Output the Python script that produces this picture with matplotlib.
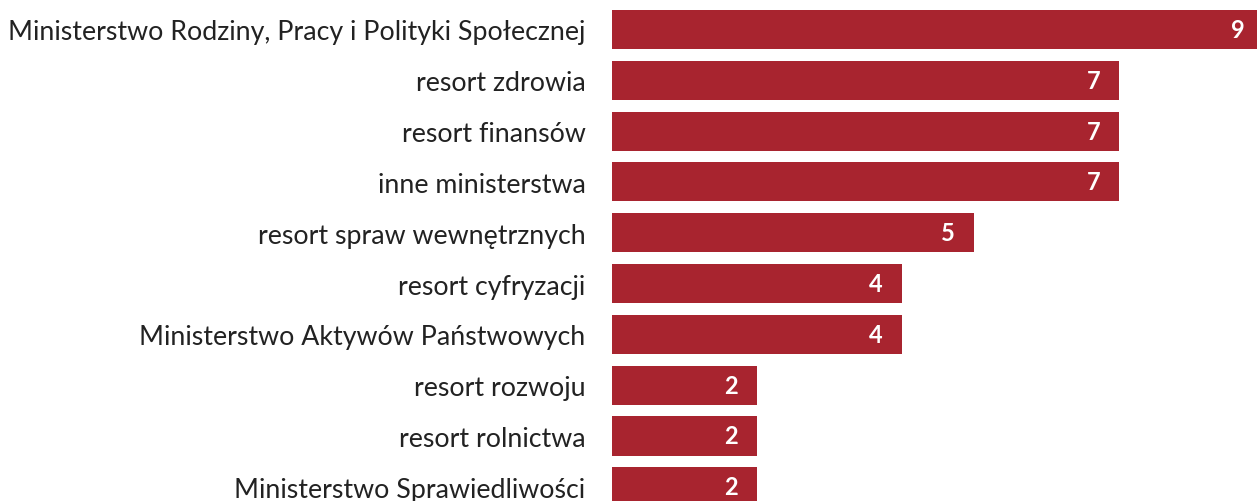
import matplotlib.pyplot as plt

categories = [
    "Ministerstwo Rodziny, Pracy i Polityki Społecznej",
    "resort zdrowia",
    "resort finansów",
    "inne ministerstwa",
    "resort spraw wewnętrznych",
    "resort cyfryzacji",
    "Ministerstwo Aktywów Państwowych",
    "resort rozwoju",
    "resort rolnictwa",
    "Ministerstwo Sprawiedliwości",
]
values = [9, 7, 7, 7, 5, 4, 4, 2, 2, 2]

bar_color = "#a8242f"

fig = plt.figure(figsize=(12.57, 5.02), dpi=100)
ax = fig.add_axes([612 / 1257, 0, 1 - 612 / 1257, 1])

pos = list(range(len(categories)))
bars = ax.barh(pos, values, height=0.77, color=bar_color)

for b, v in zip(bars, values):
    ax.annotate(str(v), (b.get_width(), b.get_y() + b.get_height() / 2),
                xytext=(-26, 0), textcoords="offset pixels",
                ha="center", va="center", color="white",
                fontsize=17, fontweight="bold", family="Lato",
                annotation_clip=False)

ax.set_xlim(0, 8.9)
ax.set_ylim(9.28, -0.6)
ax.set_yticks(pos)
ax.set_yticklabels(categories, fontsize=19.3, family="Lato", color="#222222")
ax.tick_params(axis="y", length=0, pad=19)
ax.set_xticks([])
for s in ax.spines.values():
    s.set_visible(False)

fig.savefig("out.png", dpi=100)
